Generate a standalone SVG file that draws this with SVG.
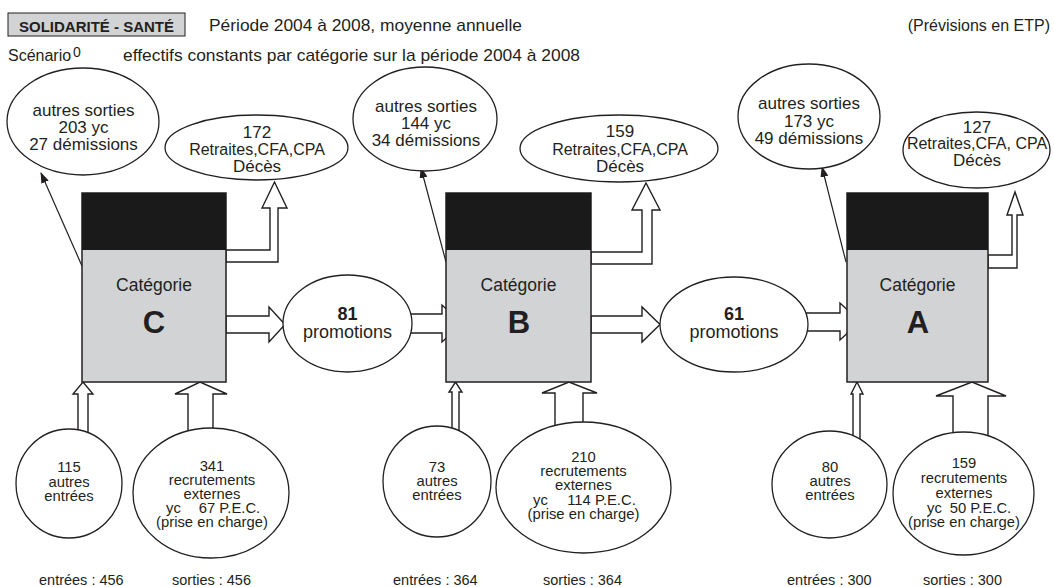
<svg xmlns="http://www.w3.org/2000/svg" width="1054" height="587" viewBox="0 0 1054 587">
  <style>
    text { font-family: "Liberation Sans", Arial, sans-serif; fill: #231f20; }
    .hdr { font-size: 16px; }
    .hdr2 { font-size: 17px; }
    .big { font-size: 17px; text-anchor: middle; }
    .ret { font-size: 16px; text-anchor: middle; }
    .sm { font-size: 14.8px; text-anchor: middle; }
    .foot { font-size: 14.5px; }
    .cat { font-size: 17.5px; text-anchor: middle; }
    .letter { font-size: 31px; font-weight: bold; text-anchor: middle; }
    .promo { font-size: 18px; text-anchor: middle; }
    .bubble { fill: #fff; stroke: #231f20; stroke-width: 1.3; }
    .body { fill: #d1d3d4; stroke: #231f20; stroke-width: 1.5; }
    .top { fill: #1a1a1a; }
    .block { fill: #fff; stroke: #231f20; stroke-width: 1.4; stroke-linejoin: miter; }
    .thin { fill: none; stroke: #231f20; stroke-width: 1.2; marker-end: url(#tip); }
  </style>
  <defs>
    <marker id="tip" markerUnits="userSpaceOnUse" markerWidth="11" markerHeight="8" refX="10" refY="4" orient="auto">
      <path d="M0,0 L11,4 L0,8 Z" fill="#231f20"/>
    </marker>
  </defs>

  <!-- header -->
  <g id="header">
    <rect x="8" y="13" width="177" height="23" fill="#d1d3d4" stroke="#231f20" stroke-width="1"/>
    <text x="96.5" y="32" style="font-size:15px;font-weight:bold" text-anchor="middle">SOLIDARITÉ - SANTÉ</text>
    <text class="hdr2" x="209" y="31" textLength="313" lengthAdjust="spacingAndGlyphs">Période 2004 à 2008, moyenne annuelle</text>
    <text class="hdr" x="1050" y="31" text-anchor="end">(Prévisions en ETP)</text>
    <text class="hdr" x="8" y="61">Scénario</text>
    <text x="73" y="57" style="font-size:14px">0</text>
    <text class="hdr2" x="123" y="61" textLength="457" lengthAdjust="spacingAndGlyphs">effectifs constants par catégorie sur la période 2004 à 2008</text>
  </g>

  <!-- flows between the categories and their bubbles -->
  <g id="connectors">
    <!-- exits: departures to "autres sorties" -->
    <line class="thin" x1="82" y1="266" x2="41" y2="173"/>
    <line class="thin" x1="446" y1="262" x2="421" y2="168"/>
    <line class="thin" x1="846" y1="262" x2="822" y2="167"/>
    <!-- retirements (L-shaped block arrows) -->
    <path class="block" d="M226,250 H270 V208 H262 L274.5,182 L287,208 H278 V262 H226 Z"/>
    <path class="block" d="M591,252 H642 V210 H632 L646,183 L660,210 H652 V264 H591 Z"/>
    <path class="block" d="M988,255 H1012 V215 H1007 L1015,192 L1023,215 H1017 V268 H988 Z"/>
    <!-- promotions -->
    <path class="block" d="M226,316 H269 V307 L285,324.5 L269,342 V333 H226 Z"/>
    <path class="block" d="M405,314 H442 V305 L462,323.5 L442,342 V333 H405 Z"/>
    <path class="block" d="M591,316 H642 V307 L660,324.5 L642,342 V333 H591 Z"/>
    <path class="block" d="M800,313 H840 V303 L860,321.5 L840,340 V331 H800 Z"/>
    <!-- entries from below -->
    <path class="block" d="M78,438 V394 H73 L83,382 L93,394 H88 V438 Z"/>
    <path class="block" d="M188,436 V394 H175 L200,382 L227,394 H213 V436 Z"/>
    <path class="block" d="M452,438 V392 H449 L455.5,382 L462,392 H459 V438 Z"/>
    <path class="block" d="M555,430 V393 H542 L569,382 L597,393 H583 V430 Z"/>
    <path class="block" d="M853,442 V394 H851 L857,382 L863,394 H860 V442 Z"/>
    <path class="block" d="M953,440 V396 H936 L972,382 L1006,396 H988 V440 Z"/>
  </g>

  <!-- category C -->
  <g id="cat-c">
    <rect class="body" x="82" y="193" width="144" height="189"/>
    <rect class="top" x="82" y="193" width="144" height="57"/>
    <text class="cat" x="154" y="291">Catégorie</text>
    <text class="letter" x="154" y="333">C</text>
  </g>
  <g id="c-autres-sorties">
    <ellipse class="bubble" cx="83" cy="121.5" rx="76" ry="53.5"/>
    <text class="big" x="83.5" y="116">autres sorties</text>
    <text class="big" x="83.5" y="133">203 yc</text>
    <text class="big" x="83.5" y="150">27 démissions</text>
  </g>
  <g id="c-retraites">
    <ellipse class="bubble" cx="256.5" cy="147.5" rx="91.5" ry="32.5"/>
    <text class="big" x="257" y="138">172</text>
    <text class="ret" x="257" y="155">Retraites,CFA,CPA</text>
    <text class="big" x="257" y="172">Décès</text>
  </g>
  <g id="c-autres-entrees">
    <ellipse class="bubble" cx="69" cy="483.5" rx="53" ry="54.5"/>
    <text class="sm" x="69" y="472">115</text>
    <text class="sm" x="69" y="486.5">autres</text>
    <text class="sm" x="69" y="501">entrées</text>
  </g>
  <g id="c-recrutements">
    <ellipse class="bubble" cx="211" cy="493" rx="78" ry="65"/>
    <text class="sm" x="212" y="470.5">341</text>
    <text class="sm" x="212" y="485">recrutements</text>
    <text class="sm" x="212" y="499">externes</text>
    <text class="sm" y="513"><tspan x="173.5">yc</tspan><tspan x="229.5">67 P.E.C.</tspan></text>
    <text class="sm" x="212" y="527">(prise en charge)</text>
  </g>
  <g id="promo-81">
    <ellipse class="bubble" cx="347.5" cy="323.5" rx="64.5" ry="48.5"/>
    <text class="promo" x="347.5" y="320" font-weight="bold">81</text>
    <text class="promo" x="347.5" y="338">promotions</text>
  </g>

  <!-- category B -->
  <g id="cat-b">
    <rect class="body" x="446" y="193" width="145" height="189"/>
    <rect class="top" x="446" y="193" width="145" height="57"/>
    <text class="cat" x="518.5" y="291">Catégorie</text>
    <text class="letter" x="519" y="333">B</text>
  </g>
  <g id="b-autres-sorties">
    <ellipse class="bubble" cx="425" cy="119" rx="72" ry="52"/>
    <text class="big" x="426" y="112">autres sorties</text>
    <text class="big" x="426" y="129">144 yc</text>
    <text class="big" x="426" y="146">34 démissions</text>
  </g>
  <g id="b-retraites">
    <ellipse class="bubble" cx="619" cy="148.5" rx="99" ry="33.5"/>
    <text class="big" x="620" y="137">159</text>
    <text class="ret" x="620" y="155">Retraites,CFA,CPA</text>
    <text class="big" x="620" y="172">Décès</text>
  </g>
  <g id="b-autres-entrees">
    <ellipse class="bubble" cx="437" cy="481.5" rx="54" ry="55.5"/>
    <text class="sm" x="437" y="472">73</text>
    <text class="sm" x="437" y="486">autres</text>
    <text class="sm" x="437" y="500">entrées</text>
  </g>
  <g id="b-recrutements">
    <ellipse class="bubble" cx="583.5" cy="487.5" rx="87.5" ry="65.5"/>
    <text class="sm" x="583.5" y="462">210</text>
    <text class="sm" x="583.5" y="476">recrutements</text>
    <text class="sm" x="583.5" y="490">externes</text>
    <text class="sm" y="505"><tspan x="540.5">yc</tspan><tspan x="601.5">114 P.E.C.</tspan></text>
    <text class="sm" x="583.5" y="519">(prise en charge)</text>
  </g>
  <g id="promo-61">
    <ellipse class="bubble" cx="734" cy="324.5" rx="74" ry="47.5"/>
    <text class="promo" x="734" y="320" font-weight="bold">61</text>
    <text class="promo" x="734" y="338">promotions</text>
  </g>

  <!-- category A -->
  <g id="cat-a">
    <rect class="body" x="847" y="193" width="141" height="189"/>
    <rect class="top" x="847" y="193" width="141" height="57"/>
    <text class="cat" x="917.5" y="291">Catégorie</text>
    <text class="letter" x="918" y="333">A</text>
  </g>
  <g id="a-autres-sorties">
    <ellipse class="bubble" cx="809" cy="116.5" rx="71" ry="52.5"/>
    <text class="big" x="809" y="109">autres sorties</text>
    <text class="big" x="809" y="127">173 yc</text>
    <text class="big" x="809" y="144">49 démissions</text>
  </g>
  <g id="a-retraites">
    <ellipse class="bubble" cx="976.5" cy="150" rx="73.5" ry="38"/>
    <text class="big" x="977" y="133">127</text>
    <text class="ret" x="977" y="149">Retraites,CFA, CPA</text>
    <text class="big" x="977" y="166">Décès</text>
  </g>
  <g id="a-autres-entrees">
    <ellipse class="bubble" cx="829.5" cy="484.5" rx="57.5" ry="53.5"/>
    <text class="sm" x="830" y="472">80</text>
    <text class="sm" x="830" y="486">autres</text>
    <text class="sm" x="830" y="500">entrées</text>
  </g>
  <g id="a-recrutements">
    <ellipse class="bubble" cx="963.5" cy="493.5" rx="70.5" ry="61.5"/>
    <text class="sm" x="964" y="468">159</text>
    <text class="sm" x="964" y="483">recrutements</text>
    <text class="sm" x="964" y="498">externes</text>
    <text class="sm" y="513"><tspan x="934.5">yc</tspan><tspan x="980.5">50 P.E.C.</tspan></text>
    <text class="sm" x="964" y="527">(prise en charge)</text>
  </g>

  <!-- totals -->
  <g id="totals">
    <text class="foot" x="39" y="585">entrées : 456</text>
    <text class="foot" x="172" y="585">sorties : 456</text>
    <text class="foot" x="393" y="585">entrées : 364</text>
    <text class="foot" x="543" y="585">sorties : 364</text>
    <text class="foot" x="787" y="585">entrées : 300</text>
    <text class="foot" x="923" y="585">sorties : 300</text>
  </g>
</svg>
